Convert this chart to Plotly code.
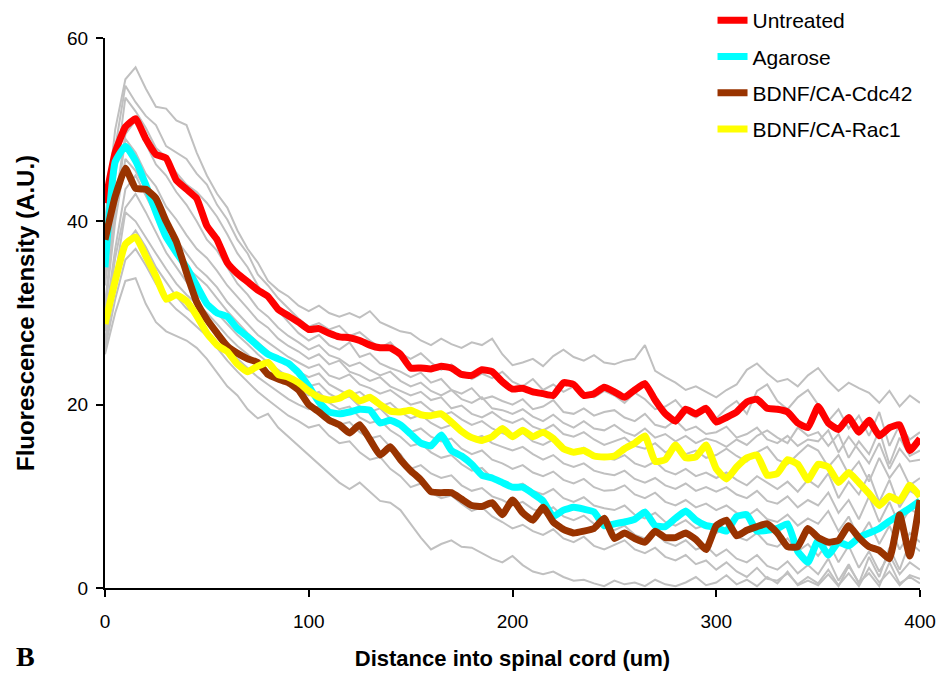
import plotly.graph_objects as go

# Distance into the spinal cord (um), sampled every 5 um
DISTANCE = list(range(0, 401, 5))

# Group means (fluorescence intensity, A.U.)
UNTREATED = [
    42, 47.5, 50.3, 51.2, 49, 47.3, 46.9, 44.5, 43.5, 42.5,
    39.5, 38, 35.5, 34.3, 33.4, 32.5, 31.8, 30.4, 29.7, 29,
    28.2, 28.3, 27.8, 27.4, 27.3, 27, 26.5, 26.2, 26.2, 25.5,
    24, 24, 23.9, 24.2, 24, 23.3, 23.2, 23.8, 23.6, 22.5,
    21.7, 21.8, 21.4, 21.2, 21, 22.4, 22.2, 21, 21.2, 21.9,
    21.4, 20.8, 21.6, 22.3, 20.5, 19, 18.2, 19.5, 19, 19.6,
    18.1, 18.6, 19.2, 20.3, 20.6, 19.6, 19.5, 19.2, 18, 17.5,
    19.8, 18, 17.3, 18.6, 17, 18.3, 16.6, 17.5, 17.8, 15,
    16.3,
]
AGAROSE = [
    35, 46.5, 48.2, 46.6, 44, 41, 38.3, 36.6, 35, 33,
    31, 30, 29.6, 28.3, 27.4, 26.4, 25.5, 25, 24.5, 23.5,
    22, 20.3, 19.2, 19, 19.2, 19.5, 19.4, 18, 18.3, 17.8,
    16.8, 15.8, 15.5, 16.7, 15, 14.4, 13.5, 12.3, 12, 11.5,
    11, 11, 10.3, 9.5, 7.8, 8.5, 8.8, 8.6, 8.3, 6.8,
    7, 7.2, 7.5, 8.3, 6.8, 6.7, 7.6, 8.4, 7.4, 6.8,
    6.6, 6.2, 7.8, 8, 6.2, 6.3, 6.5, 7, 4, 2.8,
    5.2, 3.6, 5, 4.6, 5.5, 6, 6.5, 7.3, 8, 8.7,
    9.5,
]
CDC42 = [
    38, 42.7, 45.8, 43.6, 43.5, 42.5, 40, 37.8, 34.4, 31.2,
    29.3, 27.8, 26.4, 25.6, 25, 24.6, 23.3, 22.8, 22.4, 21.6,
    20, 19.2, 18.3, 17.8, 16.9, 17.8, 16.2, 14.5, 15.4, 14,
    12.8, 11.8, 10.5, 10.4, 10.4, 9.7, 9, 8.9, 9.3, 8,
    9.6, 8.2, 7.4, 8.8, 7.2, 6.4, 6, 6.2, 6.5, 7.6,
    5.4, 6, 5.4, 5, 6.2, 5.5, 5.5, 6, 5.3, 4.2,
    6.8, 7.4, 5.7, 6.3, 6.7, 7, 6, 4.5, 4.5, 6.5,
    5.5, 5, 5.2, 6.8, 5.5, 4.5, 4.1, 3.2, 8, 3.5,
    9.6,
]
RAC1 = [
    28.8, 33.5, 37.5, 38.3, 36.2, 34, 31.5, 32, 31.3, 29.7,
    27.8, 26.5, 25.8, 24.4, 23.6, 24.2, 24.6, 23.3, 23, 22.4,
    21.5, 20.8, 20.5, 20.7, 21.3, 20.4, 20.8, 20, 19.3, 19.2,
    19.4, 18.9, 18.8, 19, 18.1, 17.1, 16.4, 16.1, 16.5, 17.4,
    16.5, 17.2, 16.5, 17, 16.3, 15.2, 14.8, 15, 14.4, 14.3,
    14.4, 15.2, 15.8, 16.6, 13.8, 14, 15.6, 14.2, 14.3, 15.6,
    13, 11.9, 13.2, 14.2, 14.5, 12.3, 12.5, 14, 13.5, 11.8,
    13.5, 13.2, 11.5, 12.6, 11.5, 10.3, 9, 10, 9.5, 11.2,
    10,
]

# Individual animals (all groups)
INDIVIDUALS = [
    [40, 50, 55.5, 56.8, 54.5, 52.5, 52.3, 51, 50.5, 47.5,
     45, 43, 41.5, 39, 37, 35.5, 33.5, 32.5, 31.8, 30.8,
     30.2, 30.8, 30, 29.6, 30, 29.5, 30.2, 29, 28.5, 28,
     27.8, 27, 26.5, 27.2, 26.6, 26.2, 26.8, 26.5, 27.2, 25.5,
     24.3, 24.6, 25, 24.2, 25.3, 26, 25.2, 24.8, 25.4, 24.6,
     24.4, 24.8, 25, 26.5, 23.7, 23, 22.4, 21.6, 22, 21.4,
     20.8, 21.6, 22.2, 23.8, 24.5, 23.4, 22.5, 22.8, 22, 23.2,
     24, 22.6, 21.5, 22.4, 21.8, 21.3, 20.2, 21.5, 19.8, 21,
     20.2],
    [36, 48, 54.8, 53, 51.5, 50.5, 48.2, 47.5, 46.8, 45.2,
     44, 41.8, 40.2, 38, 36.5, 34.2, 33, 31.6, 30.5, 29.4,
     28.5, 28.9, 28.2, 28.6, 27.5, 27.9, 27, 26.2, 26.8, 25.6,
     25, 25.6, 24.6, 23.8, 24.4, 23.5, 22.8, 23.4, 22.9, 23.6,
     22.5, 22, 22.8, 21.6, 22.2, 21.4, 22, 21.2, 20.8, 21.5,
     21, 20.2, 21.3, 20.6, 19.5, 19.8, 20.5, 19.2, 18.6, 19.4,
     18.5, 19.6, 20.4, 19, 21.5, 22.2, 20.4, 19.5, 20.8, 21.6,
     20, 18.2, 19.5, 17.4, 18.8, 16.6, 19.2, 15.5, 17.8, 16.2,
     17],
    [34, 45, 53.5, 52, 50.2, 48, 47, 45.3, 44, 43.2,
     42, 40.5, 38.6, 36.5, 35, 33, 31.5, 30.2, 29, 27.8,
     27, 27.6, 26.5, 26, 26.8, 25.2, 25.6, 24.5, 24, 23.6,
     23, 23.5, 22.4, 22.8, 21.6, 21.2, 21.8, 20.6, 20.9, 20.4,
     20, 20.6, 19.5, 19.8, 20.5, 19.2, 19, 19.6, 18.8, 19.2,
     19.4, 18.6, 18.2, 19, 17.8, 17.5, 18.3, 17.2, 17.6, 16.8,
     17, 17.6, 16.4, 16.8, 17.5, 16.2, 15.8, 16.6, 15.5, 16.2,
     16, 17.2, 14.8, 16.5, 15, 13.6, 15.8, 13, 15.2, 13.8,
     14],
    [33, 42, 49.5, 51, 48.5, 46.2, 45, 43.2, 41.8, 40,
     38, 36.8, 35, 33.2, 32, 30.5, 29.6, 28.4, 27.5, 26.8,
     26, 26.5, 25.4, 25, 24.2, 24.6, 23.8, 23.2, 23.6, 22.6,
     22, 22.4, 21.5, 21, 21.6, 20.6, 20.2, 20.8, 19.6, 19.4,
     19, 19.5, 18.7, 18.2, 18.9, 18, 17.5, 18.2, 17.4, 17.2,
     17.8, 17, 16.6, 17.4, 16.4, 16.8, 16, 16.6, 15.8, 16.3,
     16, 15.4, 16.2, 15.6, 16.6, 17.2, 16.4, 15.8, 17.5, 16.6,
     17, 15.5, 16.8, 14.2, 16, 14.6, 17.2, 13.5, 16.4, 14.4,
     15],
    [31, 41, 49, 47.5, 45.2, 43.8, 41.6, 40.2, 38.5, 37,
     36, 34.6, 33, 31.8, 30.5, 29.2, 28.4, 27.2, 26.4, 25.8,
     25, 25.5, 24.4, 24.8, 23.6, 23.2, 22.6, 23, 22, 21.5,
     21, 21.4, 20.5, 20.8, 19.6, 19.9, 19, 18.6, 19.2, 18.4,
     18, 18.5, 17.6, 17.2, 17.8, 16.8, 16.5, 17, 16.2, 15.6,
     16, 16.4, 15.5, 15.2, 15.8, 14.8, 15.3, 14.6, 15, 14.2,
     14.5, 15.2, 14.4, 13.8, 14.8, 15.4, 14, 13.5, 14.6, 15.6,
     15, 13.2, 14.5, 12.4, 13.8, 11.6, 14.2, 12, 13.5, 11.2,
     12],
    [30, 40, 46.8, 45.5, 43.5, 41.2, 39.5, 38, 36.4, 35,
     34, 32.8, 31.2, 30, 28.8, 27.6, 26.8, 26, 25.2, 24.6,
     24, 24.4, 23.2, 22.8, 23.3, 22.2, 21.8, 21.2, 21.6, 20.8,
     20, 20.3, 19.4, 18.8, 19.2, 18.4, 17.8, 18.2, 17.4, 16.9,
     16.5, 16.9, 16, 15.6, 16.2, 15.2, 14.8, 15.3, 14.5, 14.2,
     14, 14.5, 13.6, 13.2, 13.8, 12.8, 12.4, 13, 12.2, 12.6,
     12, 12.6, 11.8, 11.2, 12.2, 11.5, 10.8, 11.6, 10.5, 11.8,
     11, 12.5, 9.8, 11.6, 10.2, 12.4, 9.4, 11.8, 8.8, 10.6,
     10],
    [29, 37, 43.5, 45, 42.8, 40.6, 38.4, 36.5, 35, 34,
     33, 31.6, 30.2, 29, 27.8, 26.8, 25.8, 25, 24.2, 23.6,
     23, 23.4, 22.2, 21.6, 21, 21.4, 20.5, 19.8, 20.2, 19.2,
     18.5, 18.9, 18, 17.4, 17.8, 16.8, 16.2, 16.6, 15.8, 15.4,
     15, 15.4, 14.6, 14, 14.5, 13.6, 13.2, 13.6, 12.8, 12.5,
     12.3, 12.8, 11.9, 11.5, 12, 11.2, 10.8, 11.4, 10.6, 11,
     10.5, 11, 10.2, 9.8, 10.6, 9.5, 9.2, 10, 8.8, 9.6,
     9, 10.4, 8.2, 9.6, 7.5, 10, 7.2, 9.4, 6.8, 8.6,
     8],
    [28, 36, 41.5, 43, 41, 38.8, 36.6, 35, 33.4, 32,
     31, 30, 28.8, 27.6, 26.6, 25.5, 24.6, 23.8, 23, 22.6,
     22, 22.3, 21.2, 20.6, 20.9, 19.8, 19.2, 19.6, 18.5, 17.8,
     17, 17.4, 16.5, 16, 16.3, 15.2, 14.6, 15, 14, 13.6,
     13, 13.4, 12.6, 12.2, 12.7, 11.8, 11.4, 11.9, 11, 10.6,
     10.7, 11.2, 10.2, 9.8, 10.4, 9.4, 9, 9.6, 8.8, 9.2,
     8.5, 9, 8.2, 7.8, 8.6, 7.5, 7.2, 8, 6.8, 7.6,
     7, 8.4, 6.2, 7.8, 5.4, 7.2, 4.8, 6.8, 4.2, 6,
     5],
    [27, 34, 41, 40, 38.2, 36.5, 34.8, 33.2, 32, 31,
     30, 28.8, 27.5, 26.4, 25.5, 24.4, 23.6, 22.8, 22.2, 21.6,
     21, 21.4, 20.2, 19.5, 19.8, 18.6, 18, 18.3, 17.2, 16.5,
     15.5, 15.8, 14.8, 14.2, 14.5, 13.5, 12.8, 13.1, 12, 11.6,
     11, 11.4, 10.6, 10.2, 10.8, 9.8, 9.4, 9.9, 9, 8.7,
     8.5, 9, 8, 7.6, 8.2, 7.2, 6.8, 7.4, 6.5, 6.9,
     6, 6.6, 5.6, 5.2, 6, 4.8, 4.5, 5.4, 4, 4.8,
     3.5, 5, 2.8, 4.6, 2.2, 4, 1.8, 3.6, 1.5, 2.8,
     2],
    [26.5, 33, 37.5, 39, 37.2, 35, 33.4, 31.8, 30.5, 29.8,
     29, 27.6, 26.2, 25, 24, 23, 22.2, 21.4, 20.6, 20,
     19.5, 19.8, 18.6, 17.8, 18.1, 17, 16.3, 16.6, 15.4, 14.6,
     13, 13.4, 12.5, 12, 12.3, 11.2, 10.6, 10.9, 10, 9.6,
     9, 9.4, 8.6, 8.2, 8.8, 7.8, 7.4, 7.9, 7, 6.7,
     6.3, 6.8, 5.8, 5.4, 6, 5, 4.6, 5.2, 4.2, 4.6,
     3.5, 4.2, 3.2, 2.8, 3.6, 2.4, 2, 2.9, 1.6, 2.5,
     1.5, 3.2, 0.8, 2.6, 0.5, 3.4, 1.2, 4.4, 2, 5,
     4],
    [26, 31.5, 35.8, 37, 35.2, 33.2, 31.6, 30.4, 29.5, 28.5,
     27.5, 26.2, 24.8, 23.6, 22.5, 21.4, 20.5, 19.6, 18.8, 18.2,
     17.5, 17.8, 16.6, 15.8, 16, 14.8, 14, 14.3, 13, 12.2,
     11, 11.4, 10.4, 9.8, 10.1, 9.2, 8.4, 8.8, 7.8, 7.2,
     6.5, 6.9, 6.2, 5.8, 6.4, 5.4, 5, 5.6, 4.6, 4.2,
     4.7, 5.2, 4.2, 3.8, 4.4, 3.4, 3, 3.6, 2.6, 3,
     2, 2.8, 1.8, 1.2, 2.2, 1, 0.8, 1.6, 0.4, 1.2,
     0.5, 2, 0.3, 1.6, 0.2, 2.2, 0.6, 1.8, 0.3, 1.4,
     1],
    [25.5, 30, 33.5, 33.8, 31, 29, 28, 27.5, 27, 26.2,
     25, 23.5, 22, 21, 19.5, 18.5, 19, 17.5, 16.5, 15.5,
     14.5, 13.5, 12.5, 11.5, 10.8, 11.5, 10.5, 9.5, 9.3, 8.5,
     7, 5.5, 4.2, 4.8, 5.2, 4.5, 4.4, 3.8, 3.2, 2.8,
     3.5, 2.5, 1.8, 1.5, 1.8, 1.2, 0.8, 0.9, 0.5, 0.2,
     0.8, 0.4, 0.6, 0.2, 0.9, 0.4, 0.2, 0.6, 1.2, 0.3,
     0.6, 1.4, 0.4, 0.9, 0.2, 1.2, 0.5, 1.8, 0.3, 0.8,
     0.3, 1.5, 0.2, 2.4, 0.6, 1.6, 0.2, 2.8, 0.5, 1.2,
     0.5],
]

GROUPS = [
    ("Untreated", UNTREATED, "#ff0000"),
    ("Agarose", AGAROSE, "#00ffff"),
    ("BDNF/CA-Cdc42", CDC42, "#993300"),
    ("BDNF/CA-Rac1", RAC1, "#ffff00"),
]

FONT = "Liberation Sans, Arial, sans-serif"

fig = go.Figure()

for trace_y in INDIVIDUALS:
    fig.add_trace(go.Scatter(
        x=DISTANCE, y=trace_y, mode="lines",
        line=dict(color="#c0c0c0", width=2),
        showlegend=False, hoverinfo="skip",
    ))

for i, (name, values, color) in enumerate(GROUPS):
    fig.add_trace(go.Scatter(
        x=DISTANCE, y=values, mode="lines", name=name,
        line=dict(color=color, width=7, shape="spline", smoothing=0.4),
        legendgroup=f"g{i}",
    ))

fig.update_layout(
    width=940, height=675,
    margin=dict(l=105, r=20, t=38, b=87, autoexpand=False),
    paper_bgcolor="white", plot_bgcolor="white",
    font=dict(family=FONT, color="black", size=19),
    legend=dict(
        xref="container", yref="container",
        x=0.758, y=1.006, xanchor="left", yanchor="top",
        bgcolor="rgba(0,0,0,0)", font=dict(size=21, family=FONT),
        tracegroupgap=6, itemwidth=30,
    ),
    annotations=[dict(
        text="<b>B</b>", xref="paper", yref="paper",
        x=-0.098, y=-0.125, xanchor="center", yanchor="middle",
        showarrow=False, font=dict(family="Liberation Serif, Times New Roman, serif", size=28),
    )],
)

fig.update_xaxes(
    range=[0, 400], tickvals=[0, 100, 200, 300, 400],
    showgrid=False, zeroline=False,
    showline=True, linecolor="black", linewidth=2,
    ticks="outside", ticklen=7, tickwidth=2, tickcolor="black",
    ticklabelstandoff=8,
    title=dict(text="<b>Distance into spinal cord (um)</b>", font=dict(size=22), standoff=20),
)
fig.update_yaxes(
    range=[0, 60], tickvals=[0, 20, 40, 60],
    showgrid=False, zeroline=False,
    showline=True, linecolor="black", linewidth=2,
    ticks="outside", ticklen=7, tickwidth=2, tickcolor="black",
    ticklabelstandoff=4,
    title=dict(text="<b>Fluorescence Itensity (A.U.)</b>", font=dict(size=24), standoff=26),
)

fig.write_html("out.html")
